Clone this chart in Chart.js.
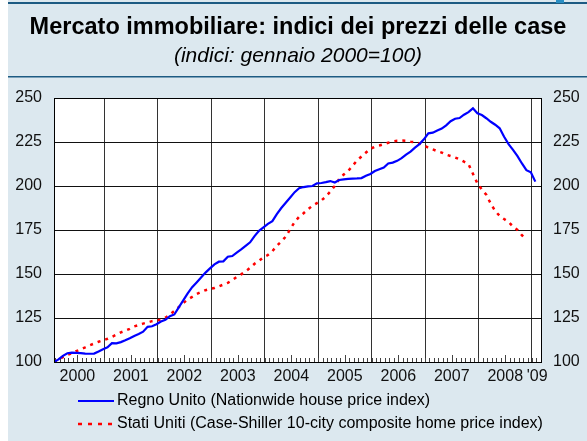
<!DOCTYPE html>
<html>
<head>
<meta charset="utf-8">
<script src="https://cdn.jsdelivr.net/npm/chart.js@4.4.1/dist/chart.umd.min.js"></script>
<style>
  html, body { margin: 0; padding: 0; background: #fff; }
  #wrap { width: 587px; height: 441px; }
</style>
</head>
<body>
<div id="wrap"><canvas id="chart" width="587" height="441"></canvas></div>
<script>
// monthly index values, January 2000 = 100 (index 0 = Jan 2000)
const ukValues = [
  100, 101.5, 103.5, 105, 105.3, 105.2, 105, 104.8, 104.7, 104.8, 106, 107.3,
  108.3, 110.7, 110.6, 111.3, 112.3, 113.5, 114.8, 115.9, 117.2, 120, 120.3, 121.5,
  123, 124, 126, 127, 131, 135, 139, 142.5, 145.2, 148, 150.8, 153.2,
  155.5, 157, 157.2, 159.8, 160.2, 162.2, 164, 166, 168, 171.5, 174.5, 176.5,
  178.5, 180, 184, 187.5, 190.5, 193.5, 196.5, 198.7, 199.4, 199.8, 200, 201.5,
  201.7, 202.2, 202.8, 202, 203.4, 203.8, 204, 204.2, 204.3, 204.5, 205.8, 206.8,
  208.5, 209.5, 210.5, 212.8, 213.3, 214.3, 215.8, 217.8, 219.5, 221.8, 223.8, 226.5,
  229.9, 230.3, 231.5, 232.6, 234.5, 236.8, 238.2, 238.6, 240.5, 242, 244.1, 241.3,
  240.3, 238.5, 236.5, 234.8, 232.8, 228, 223.8, 220.5, 217, 212.8, 209, 207.8,
  202.5
];
const usValues = [
  100, 101.5, 102.8, 104, 105, 106.2, 107.2, 108.3, 109.5, 110.5, 111.5, 112.3,
  113.2, 114.3, 115.5, 116.8, 117.8, 118.8, 120.2, 121, 121.8, 122.5, 123.2, 123.6,
  124, 125.2, 127, 129, 131.2, 133.5, 135.5, 137, 138.6, 139.8, 140.8, 141.5,
  142, 143, 144, 145, 146.5, 148.3, 149.8, 151.5, 153.5, 155.8, 157.5, 159.5,
  160.8, 163, 166, 168.5, 171.2, 175.5, 179.5, 182.5, 184.5, 186.8, 188.8, 190.3,
  191.8, 194, 196.8, 200, 204, 206.5, 208.5, 211.5, 214.5, 216.8, 219, 221.2,
  222.3, 223, 223.8, 224.6, 225.2, 225.7, 225.8, 225.7, 225.2, 224.9, 224.2, 223,
  221.8, 220.8, 219.8, 219, 217.8, 217, 216.2, 215.2, 213.8, 212.5, 207, 201.5,
  198, 195, 190, 185.8, 183, 181.2, 179.5, 177, 175, 172, 169.7
];
const yearLabels = ['2000', '2001', '2002', '2003', '2004', '2005', '2006', '2007', '2008', "'09"];
const yTicks = [100, 125, 150, 175, 200, 225, 250];

const titleText = 'Mercato immobiliare: indici dei prezzi delle case';
const subtitleText = '(indici: gennaio 2000=100)';
const ukLabel = 'Regno Unito (Nationwide house price index)';
const usLabel = 'Stati Uniti (Case-Shiller 10-city composite home price index)';

const BG = '#dce8ef';
const RULE = '#1d5b83';
const FONT = '"Liberation Sans", Arial, Helvetica, sans-serif';
const X_MAX = 109.5;

// year boundaries and label positions on the month axis
const yearEdges = yearLabels.slice(0, 9).map((y, i) => 11.25 + 12 * i);
const labelPos = yearLabels.map((y, i) => i < 9 ? 5.25 + 12 * i : 108.4);

const decor = {
  id: 'decor',
  beforeDraw(chart) {
    const { ctx, chartArea: a, width, height } = chart;
    ctx.save();
    ctx.fillStyle = '#fff';
    ctx.fillRect(0, 0, width, height);
    ctx.fillStyle = BG;
    ctx.fillRect(8, 0, width - 8, height);
    ctx.fillStyle = RULE;
    ctx.fillRect(8, 2, width - 8, 2);
    ctx.fillRect(8, 76, width - 8, 1.5);
    ctx.fillStyle = '#2a8fc4';
    ctx.fillRect(556, 0, 8, 3);

    ctx.fillStyle = '#000';
    ctx.textAlign = 'center';
    ctx.textBaseline = 'middle';
    ctx.font = 'bold 23.5px ' + FONT;
    ctx.fillText(titleText, 298, 28);
    ctx.font = 'italic 21px ' + FONT;
    ctx.fillText(subtitleText, 298, 56);

    ctx.fillStyle = '#fff';
    ctx.fillRect(a.left, a.top, a.right - a.left, a.bottom - a.top);
    ctx.restore();
  },
  beforeDatasetsDraw(chart) {
    // monthly minor ticks along the bottom edge
    const { ctx, chartArea: a } = chart;
    const xs = chart.scales.x;
    ctx.save();
    ctx.strokeStyle = '#444';
    ctx.lineWidth = 1;
    for (let k = 1; k <= 110; k++) {
      const v = k - 0.75;
      if (v > X_MAX) break;
      const tall = ((v - 5.25) % 12 + 12) % 12 === 0;
      const px = Math.round(xs.getPixelForValue(v)) + 0.5;
      ctx.beginPath();
      ctx.moveTo(px, a.bottom);
      ctx.lineTo(px, a.bottom - (tall ? 7 : 4));
      ctx.stroke();
    }
    ctx.restore();
  },
  afterDraw(chart) {
    const { ctx, chartArea: a } = chart;
    ctx.save();
    ctx.strokeStyle = '#000';
    ctx.lineWidth = 1;
    ctx.strokeRect(a.left + 0.5, a.top + 0.5, a.right - a.left - 1, a.bottom - a.top);

    // legend
    const rows = [
      { label: ukLabel, color: '#0000ff', dash: [], width: 2, y: 401 },
      { label: usLabel, color: '#ff0000', dash: [4, 6], width: 2.5, y: 424 }
    ];
    rows.forEach(r => {
      ctx.beginPath();
      ctx.setLineDash(r.dash);
      ctx.strokeStyle = r.color;
      ctx.lineWidth = r.width;
      ctx.moveTo(78, r.y);
      ctx.lineTo(114, r.y);
      ctx.stroke();
      ctx.setLineDash([]);
      ctx.fillStyle = '#000';
      ctx.font = '16px ' + FONT;
      ctx.textAlign = 'left';
      ctx.textBaseline = 'middle';
      ctx.fillText(r.label, 117, r.y);
    });
    ctx.restore();
  }
};

new Chart(document.getElementById('chart'), {
  type: 'line',
  data: {
    datasets: [
      {
        label: ukLabel,
        data: ukValues.map((v, i) => ({ x: i, y: v })),
        borderColor: '#0000ff',
        borderWidth: 2.2,
        pointRadius: 0,
        tension: 0
      },
      {
        label: usLabel,
        data: usValues.map((v, i) => ({ x: i, y: v })),
        borderColor: '#ff0000',
        borderWidth: 2.5,
        borderDash: [3, 5],
        pointRadius: 0,
        tension: 0
      }
    ]
  },
  options: {
    responsive: false,
    animation: false,
    layout: { padding: { top: 98, left: 0, right: 0, bottom: 0 } },
    plugins: { legend: { display: false }, tooltip: { enabled: false } },
    scales: {
      x: {
        type: 'linear',
        position: 'bottom',
        min: 0,
        max: X_MAX,
        afterBuildTicks: s => { s.ticks = yearEdges.map(v => ({ value: v })); },
        afterFit: s => { s.height = 0; },
        ticks: { display: false },
        grid: { color: '#333', drawTicks: false },
        border: { display: false }
      },
      xYears: {
        type: 'linear',
        position: 'bottom',
        min: 0,
        max: X_MAX,
        afterBuildTicks: s => { s.ticks = labelPos.map(v => ({ value: v })); },
        afterFit: s => { s.height = 79; },
        ticks: {
          autoSkip: false,
          maxRotation: 0,
          padding: 5,
          color: '#111',
          font: { family: FONT, size: 16 },
          callback: (v, i) => yearLabels[i]
        },
        grid: { display: false, drawTicks: false },
        border: { display: false }
      },
      y: {
        position: 'left',
        min: 100,
        max: 250,
        afterBuildTicks: s => { s.ticks = yTicks.map(v => ({ value: v })); },
        afterFit: s => { s.width = 54; },
        ticks: { padding: 12, color: '#111', font: { family: FONT, size: 16 } },
        grid: { color: '#111', drawTicks: false },
        border: { display: false }
      },
      yRight: {
        position: 'right',
        min: 100,
        max: 250,
        afterBuildTicks: s => { s.ticks = yTicks.map(v => ({ value: v })); },
        afterFit: s => { s.width = 45; },
        ticks: { padding: 11, color: '#111', font: { family: FONT, size: 16 } },
        grid: { display: false, drawTicks: false },
        border: { display: false }
      }
    }
  },
  plugins: [decor]
});
</script>
</body>
</html>
